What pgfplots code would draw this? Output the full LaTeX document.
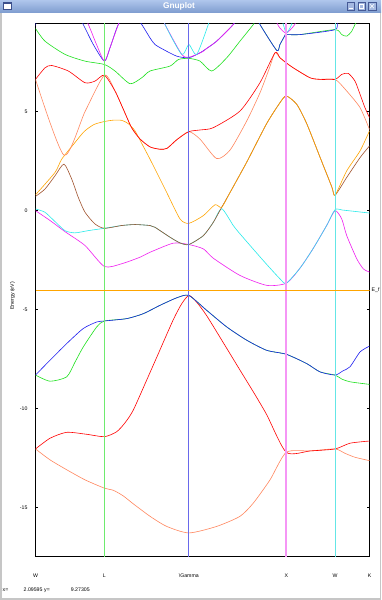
\documentclass[border=0pt]{standalone}
\usepackage{pgfplots}
\pgfplotsset{compat=1.18}
\usepackage{fontspec}
\setmainfont{Liberation Sans}
\definecolor{gred}{RGB}{255,0,0}
\definecolor{ggreen}{RGB}{30,225,30}
\definecolor{gblue}{RGB}{30,30,240}
\definecolor{gmag}{RGB}{240,30,240}
\definecolor{gcyan}{RGB}{40,235,235}
\definecolor{gsienna}{RGB}{160,82,45}
\definecolor{gorange}{RGB}{255,165,0}
\definecolor{gcoral}{RGB}{255,135,95}
\definecolor{vL}{RGB}{110,235,110}
\definecolor{vG}{RGB}{105,105,235}
\definecolor{vX}{RGB}{245,150,245}
\definecolor{vW}{RGB}{100,230,230}
\definecolor{tbtop}{RGB}{175,198,236}
\definecolor{tbbot}{RGB}{128,158,208}
\definecolor{tbdark}{RGB}{60,80,140}
\definecolor{btnfill}{RGB}{165,185,225}
\definecolor{btndraw}{RGB}{70,90,150}
\begin{document}
\begin{tikzpicture}
\begin{scope}[x=1pt,y=1pt]
\path[use as bounding box] (0,0) rectangle (381,600);
\fill[gray!45] (0,0) rectangle (381,600);
\fill[white] (1.5,2) rectangle (379.5,588);
\shade[top color=tbtop, bottom color=tbbot] (0,587.7) rectangle (381,600);
\filldraw[fill=white, draw=tbdark, line width=0.5pt] (3,590.5) rectangle (11.5,597.3);
\fill[tbdark] (3,595.8) rectangle (11.5,597.3);
\foreach \bx in {346.7,357.7,368.3}{
  \filldraw[fill=btnfill, draw=btndraw, line width=0.4pt] (\bx,590) rectangle ++(7.5,7.5);
}
\draw[white, line width=0.6pt] (348.5,591.8) -- (352.5,591.8);
\draw[white, line width=0.5pt] (359.5,591.8) rectangle (363.4,595.7);
\draw[white, line width=0.6pt] (370.1,591.8) -- (374,595.7) (370.1,595.7) -- (374,591.8);
\node[white, font=\bfseries\fontsize{8.3}{9}\selectfont] at (179,593.8) {Gnuplot};
\node[anchor=base west, inner sep=0, font=\fontsize{5.2}{6}\selectfont] at (2.5,8.3) {x=};
\node[anchor=base west, inner sep=0, font=\fontsize{5.2}{6}\selectfont] at (23.5,8.3) {2.09595};
\node[anchor=base west, inner sep=0, font=\fontsize{5.2}{6}\selectfont] at (44,8.3) {y=};
\node[anchor=base west, inner sep=0, font=\fontsize{5.2}{6}\selectfont] at (70.7,8.3) {9.27305};
\node[rotate=90, font=\fontsize{5.2}{6}\selectfont] at (12.5,304) {Energy (eV)};
\node[anchor=base west, inner sep=0, font=\fontsize{5.2}{6}\selectfont] at (371.5,308.3) {E\_f};
\end{scope}
\begin{axis}[
  at={(35.5pt,43.3pt)}, anchor=south west, scale only axis,
  width=334pt, height=533.4pt,
  xmin=0, xmax=3.4267, ymin=-17.47, ymax=9.46,
  axis line style={black, line width=0.9pt},
  xtick={0,0.7071,1.5731,2.5731,3.0731,3.4267},
  xticklabels={W,L,\textbackslash Gamma,X,W,K},
  ytick={-15,-10,-5,0,5},
  yticklabels={-15,-10,-5,0,5},
  tick pos=both, tick align=inside, major tick length=2.5pt,
  tick style={black, line width=0.7pt},
  xticklabel style={font=\fontsize{5.2}{6}\selectfont, yshift=-13.5pt},
  yticklabel style={font=\fontsize{5.2}{6}\selectfont, xshift=-4.5pt},
  every axis plot/.append style={line width=0.6pt, line join=round},
]
% band 1 coral
\addplot[gcoral, smooth, tension=0.4] coordinates {(0,-12.03) (0.149,-12.58) (0.320,-13.08) (0.508,-13.59) (0.7071,-14.01) (0.80,-14.12) (0.90,-14.40) (1.003,-14.80) (1.175,-15.43) (1.346,-15.94) (1.5731,-16.27) (1.859,-15.94) (2.098,-15.43) (2.235,-14.76) (2.406,-13.59) (2.5731,-12.20) (2.82,-12.13) (3.0731,-12.03) (3.175,-12.25) (3.278,-12.45) (3.4267,-12.62)};
% band 2 red
\addplot[gred, smooth, tension=0.4] coordinates {(0,-12.03) (0.149,-11.49) (0.320,-11.19) (0.525,-11.29) (0.7071,-11.41) (0.833,-11.16) (0.92,-10.7) (1.003,-10.07) (1.141,-8.55) (1.244,-7.4) (1.414,-5.5) (1.5,-4.7) (1.5731,-4.28) (1.65,-4.6) (1.756,-5.3) (1.962,-6.95) (2.098,-8.05) (2.235,-9.15) (2.372,-10.3) (2.5731,-12.20) (2.82,-12.13) (3.0731,-12.03) (3.227,-11.74) (3.4267,-11.63)};
% band 3 green
\addplot[ggreen, smooth, tension=0.4] coordinates {(0,-8.30) (0.149,-8.61) (0.320,-8.39) (0.405,-7.65) (0.490,-6.88) (0.628,-5.87) (0.7071,-5.57) (0.936,-5.45) (1.106,-5.20) (1.277,-4.78) (1.449,-4.40) (1.5731,-4.28) (1.756,-5.03) (1.962,-5.87) (2.167,-6.54) (2.372,-7.05) (2.5731,-7.25) (2.782,-7.72) (2.919,-8.14) (3.0731,-8.30) (3.142,-8.50) (3.227,-8.64) (3.4267,-8.77)};
% band 4 blue
\addplot[gblue, smooth, tension=0.4] coordinates {(0,-8.30) (0.149,-7.55) (0.320,-6.71) (0.490,-5.95) (0.628,-5.62) (0.7071,-5.57) (0.936,-5.45) (1.106,-5.20) (1.277,-4.78) (1.449,-4.40) (1.5731,-4.28) (1.756,-5.03) (1.962,-5.87) (2.167,-6.54) (2.372,-7.05) (2.5731,-7.25) (2.782,-7.72) (2.919,-8.14) (3.0731,-8.30) (3.15,-8.1) (3.227,-7.88) (3.330,-7.13) (3.4267,-6.84)};
% band 5 magenta
\addplot[gmag, smooth, tension=0.4] coordinates {(0,0.0) (0.15,-0.5) (0.303,-1.06) (0.508,-1.76) (0.7071,-2.82) (0.884,-2.68) (1.072,-2.35) (1.175,-2.10) (1.414,-1.64) (1.5731,-1.71) (1.722,-1.93) (1.824,-2.4) (2.098,-3.27) (2.372,-3.77) (2.5731,-3.66) (2.714,-2.9) (2.850,-1.9) (2.987,-0.75) (3.0731,0.0) (3.142,-0.42) (3.193,-1.26) (3.296,-2.43) (3.364,-2.94) (3.4267,-3.10)};
% band 6 cyan
\addplot[gcyan, smooth, tension=0.4] coordinates {(0,0.09) (0.097,-0.08) (0.2,-0.55) (0.303,-1.01) (0.405,-1.12) (0.55,-1.0) (0.7071,-0.89) (0.884,-0.75) (1.021,-0.70) (1.175,-0.75) (1.226,-0.84) (1.380,-1.34) (1.483,-1.63) (1.5731,-1.71) (1.722,-1.26) (1.824,-0.59) (1.910,0.10) (2.029,-0.75) (2.098,-1.17) (2.337,-2.52) (2.508,-3.44) (2.5731,-3.66) (2.714,-2.9) (2.850,-1.9) (2.987,-0.75) (3.0731,0.05) (3.15,0.03) (3.30,-0.05) (3.4267,-0.12)};
% band 7 sienna
\addplot[gsienna, smooth, tension=0.4] coordinates {(0,0.72) (0.097,1.09) (0.200,1.76) (0.292,2.35) (0.371,1.60) (0.439,0.67) (0.508,-0.08) (0.610,-0.67) (0.7071,-0.89) (0.884,-0.75) (1.021,-0.70) (1.175,-0.75) (1.226,-0.84) (1.380,-1.34) (1.483,-1.63) (1.5731,-1.71) (1.722,-1.26) (1.824,-0.59) (1.910,0.17) (1.996,0.92) (2.167,2.45) (2.372,4.4) (2.508,5.45) (2.5731,5.79) (2.680,5.37) (2.782,4.4) (2.919,2.7) (3.04,1.2) (3.0731,0.78) (3.193,1.68) (3.330,2.68) (3.4267,3.27)};
% band 8 orange
\addplot[gorange, smooth, tension=0.4] coordinates {(0,0.80) (0.200,1.93) (0.269,2.60) (0.405,3.44) (0.50,4.0) (0.60,4.35) (0.7071,4.50) (0.80,4.57) (0.884,4.56) (0.95,4.4) (1.021,4.03) (1.10,3.3) (1.175,2.60) (1.346,0.92) (1.483,-0.42) (1.5731,-0.64) (1.722,-0.25) (1.842,0.30) (1.910,0.17) (1.996,0.92) (2.167,2.45) (2.372,4.4) (2.508,5.45) (2.5731,5.79) (2.680,5.37) (2.782,4.4) (2.919,2.7) (3.04,1.2) (3.0731,0.78) (3.193,2.01) (3.330,3.02) (3.4267,4.03)};
% band 9 coral
\addplot[gcoral, smooth, tension=0.4] coordinates {(0,6.63) (0.292,2.80) (0.508,5.0) (0.7071,6.84) (0.816,6.04) (0.901,5.12) (0.986,4.19) (1.072,3.62) (1.175,3.22) (1.28,3.10) (1.35,3.15) (1.449,3.58) (1.5731,3.99) (1.688,3.61) (1.859,2.63) (1.996,3.06) (2.167,4.53) (2.303,5.95) (2.40,7.2) (2.457,7.97) (2.508,7.72) (2.5731,7.46) (2.645,7.21) (2.816,6.71) (2.919,6.63) (3.0731,6.63) (3.193,6.04) (3.330,5.20) (3.4267,4.10)};
% band 10 red
\addplot[gred, smooth, tension=0.4] coordinates {(0,6.63) (0.097,7.21) (0.166,7.33) (0.337,7.05) (0.508,6.46) (0.610,6.54) (0.7071,6.84) (0.816,6.04) (0.901,5.12) (0.986,4.19) (1.072,3.62) (1.175,3.22) (1.28,3.10) (1.35,3.15) (1.449,3.58) (1.5731,3.99) (1.70,4.08) (1.824,4.19) (2.098,5.03) (2.303,6.46) (2.457,7.97) (2.508,7.72) (2.5731,7.46) (2.645,7.21) (2.816,6.71) (2.919,6.63) (3.0731,6.63) (3.142,6.88) (3.209,6.93) (3.278,6.54) (3.330,5.87) (3.38,5.20) (3.4267,4.70)};
% band 11 green
\addplot[ggreen, smooth, tension=0.4] coordinates {(0,9.2) (0.097,8.56) (0.303,7.89) (0.508,7.55) (0.7071,7.38) (0.816,7.05) (0.970,6.41) (1.090,6.71) (1.175,7.05) (1.38,7.30) (1.466,7.63) (1.5731,7.69) (1.688,7.55) (1.808,7.05) (1.962,7.72) (2.098,8.56) (2.235,9.40) (2.27,9.7) (2.303,9.40) (2.475,8.09) (2.508,8.39) (2.555,8.81) (2.5731,8.89) (2.714,8.89) (3.0731,9.14) (3.142,8.89) (3.193,8.81) (3.245,9.06) (3.278,9.40) (3.35,10)};
% band 12 blue
\addplot[gblue, smooth, tension=0.4] coordinates {(0,9.35) (0.05,9.8) (0.40,10.2) (0.490,9.40) (0.593,8.39) (0.7071,7.55) (0.764,8.22) (0.850,9.40) (0.97,10.2) (1.090,9.40) (1.175,8.72) (1.226,8.39) (1.311,8.14) (1.449,7.80) (1.5731,7.72) (1.688,7.97) (1.756,8.19) (1.859,8.56) (2.029,9.40) (2.15,10.2) (2.25,10.0) (2.303,9.40) (2.475,8.09) (2.508,8.39) (2.555,8.81) (2.5731,8.89) (2.714,8.89) (3.0731,9.14) (3.10,9.6) (3.2,10.2) (3.4267,10.5)};
% band 13 magenta
\addplot[gmag, smooth, tension=0.4] coordinates {(0,10.5) (0.45,10.2) (0.542,9.40) (0.625,8.4) (0.7071,7.55) (0.764,8.22) (0.850,9.40) (0.95,10.5) (1.25,10.3) (1.329,9.40) (1.500,7.89) (1.5731,7.75) (1.654,7.89) (1.722,8.05) (1.756,8.19) (1.859,8.56) (2.029,9.40) (2.15,10.3) (2.40,10.3) (2.48,9.45) (2.508,9.22) (2.5731,8.97) (2.66,9.40) (2.75,10.3) (3.4267,10.5)};
% band 14 cyan
\addplot[gcyan, smooth, tension=0.4] coordinates {(0,10.8) (1.25,10.6) (1.329,9.40) (1.500,7.89) (1.5731,8.39) (1.654,7.89) (1.773,9.40) (1.85,10.5) (2.45,10.5) (2.542,9.40) (2.5731,8.97) (2.628,9.40) (2.70,10.5) (3.4267,10.8)};
% high-symmetry lines
\addplot[vL, line width=0.8pt] coordinates {(0.7071,-17.47) (0.7071,9.46)};
\addplot[vG, line width=0.8pt] coordinates {(1.5731,-17.47) (1.5731,9.46)};
\addplot[vX, line width=1.8pt] coordinates {(2.5731,-17.47) (2.5731,9.46)};
\addplot[vW, line width=0.8pt] coordinates {(3.0731,-17.47) (3.0731,9.46)};
% Fermi level
\addplot[gorange, line width=0.8pt] coordinates {(0,-4.02) (3.4267,-4.02)};
\end{axis}
\end{tikzpicture}
\end{document}
